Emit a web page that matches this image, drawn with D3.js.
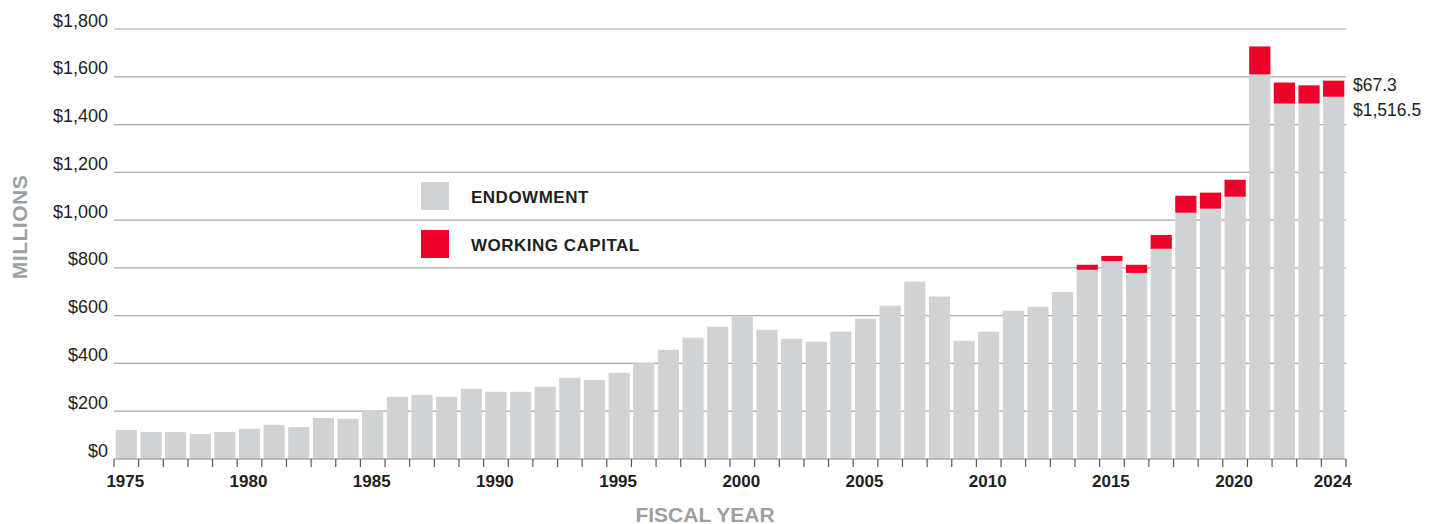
<!DOCTYPE html>
<html>
<head>
<meta charset="utf-8">
<script src="https://cdn.jsdelivr.net/npm/d3@7"></script>
<style>
  body { margin: 0; background: #fff; }
  text { font-family: "Liberation Sans", Arial, sans-serif; }
</style>
</head>
<body>
<div id="chart"></div>
<script>
// fiscal years
var years = d3.range(1975, 2025);

// endowment, $ millions
var endowment = [
  122, 113, 113, 105, 113, 126, 143, 134, 172, 168,
  200, 260, 268, 260, 294, 281, 281, 302, 340, 331,
  361, 401, 457, 508, 554, 601, 541, 503, 491, 533,
  587, 642, 743, 680, 495, 533, 621, 637, 699, 792,
  829, 779, 880, 1031, 1048, 1098, 1610, 1488, 1488, 1516.5
];

// working capital, $ millions
var workingCapital = [
  0, 0, 0, 0, 0, 0, 0, 0, 0, 0,
  0, 0, 0, 0, 0, 0, 0, 0, 0, 0,
  0, 0, 0, 0, 0, 0, 0, 0, 0, 0,
  0, 0, 0, 0, 0, 0, 0, 0, 0, 21,
  21, 34, 58, 71, 67, 71, 117, 88, 76, 67.3
];

var yTicks = d3.range(0, 1801, 200);
var xLabelYears = [1975, 1980, 1985, 1990, 1995, 2000, 2005, 2010, 2015, 2020, 2024];

var W = 1434, H = 524;
var margin = { left: 114, right: 1346, top: 29, bottom: 459 };

var data = years.map(function (y, i) {
  return { year: y, endow: endowment[i], wc: workingCapital[i] };
});

var svg = d3.select("#chart").append("svg")
  .attr("width", W)
  .attr("height", H);

var x = d3.scaleBand()
  .domain(years)
  .range([margin.left, margin.right])
  .paddingInner(0.14)
  .paddingOuter(0.07);

var y = d3.scaleLinear()
  .domain([0, 1800])
  .range([margin.bottom, margin.top]);

// gridlines
svg.append("g")
  .selectAll("line")
  .data(yTicks.filter(function (d) { return d > 0; }))
  .enter().append("line")
  .attr("x1", margin.left)
  .attr("x2", margin.right)
  .attr("y1", function (d) { return y(d); })
  .attr("y2", function (d) { return y(d); })
  .attr("stroke", "#a7a9ac")
  .attr("stroke-width", 1.2);

// y labels
svg.append("g")
  .selectAll("text")
  .data(yTicks)
  .enter().append("text")
  .attr("x", 108)
  .attr("y", function (d) { return y(d) - 2.5; })
  .attr("text-anchor", "end")
  .attr("font-size", "18px")
  .attr("fill", "#231f20")
  .text(function (d) { return "$" + d3.format(",")(d); });

// bars - endowment
svg.append("g")
  .selectAll("rect")
  .data(data)
  .enter().append("rect")
  .attr("x", function (d) { return x(d.year); })
  .attr("y", function (d) { return y(d.endow); })
  .attr("width", x.bandwidth())
  .attr("height", function (d) { return y(0) - y(d.endow); })
  .attr("fill", "#d1d2d4");

// bars - working capital
svg.append("g")
  .selectAll("rect")
  .data(data.filter(function (d) { return d.wc > 0; }))
  .enter().append("rect")
  .attr("x", function (d) { return x(d.year); })
  .attr("y", function (d) { return y(d.endow + d.wc); })
  .attr("width", x.bandwidth())
  .attr("height", function (d) { return y(d.endow) - y(d.endow + d.wc); })
  .attr("fill", "#ed0029");

// x axis line
svg.append("line")
  .attr("x1", margin.left)
  .attr("x2", margin.right)
  .attr("y1", y(0))
  .attr("y2", y(0))
  .attr("stroke", "#a7a9ac")
  .attr("stroke-width", 1.5);

// ticks at band boundaries
var step = x.step();
var bounds = years.map(function (yr) { return x(yr) - step * 0.07; }).concat([margin.right]);
svg.append("g")
  .selectAll("line")
  .data(bounds)
  .enter().append("line")
  .attr("x1", function (d) { return d; })
  .attr("x2", function (d) { return d; })
  .attr("y1", y(0))
  .attr("y2", y(0) + 8)
  .attr("stroke", "#58595b")
  .attr("stroke-width", 1.2);

// x labels
svg.append("g")
  .selectAll("text")
  .data(xLabelYears)
  .enter().append("text")
  .attr("x", function (d) { return x(d) + x.bandwidth() / 2 - 1; })
  .attr("y", 487)
  .attr("text-anchor", "middle")
  .attr("font-size", "17px")
  .attr("font-weight", "bold")
  .attr("fill", "#231f20")
  .text(function (d) { return d; });

// axis titles
svg.append("text")
  .attr("x", 705)
  .attr("y", 522)
  .attr("text-anchor", "middle")
  .attr("font-size", "21px")
  .attr("font-weight", "bold")
  .attr("fill", "#9d9fa2")
  .text("FISCAL YEAR");

svg.append("text")
  .attr("transform", "translate(27,227) rotate(-90)")
  .attr("text-anchor", "middle")
  .attr("font-size", "21px")
  .attr("font-weight", "bold")
  .attr("letter-spacing", "0.5px")
  .attr("fill", "#9d9fa2")
  .text("MILLIONS");

// legend
var legend = [
  { name: "ENDOWMENT", color: "#d1d2d4" },
  { name: "WORKING CAPITAL", color: "#ed0029" }
];
var lg = svg.append("g").selectAll("g")
  .data(legend)
  .enter().append("g")
  .attr("transform", function (d, i) { return "translate(421," + (182 + i * 48) + ")"; });
lg.append("rect")
  .attr("width", 28)
  .attr("height", 28)
  .attr("fill", function (d) { return d.color; });
lg.append("text")
  .attr("x", 50)
  .attr("y", 21)
  .attr("font-size", "17px")
  .attr("font-weight", "bold")
  .attr("letter-spacing", "0.5px")
  .attr("fill", "#231f20")
  .text(function (d) { return d.name; });

// value labels for last year
var last = data[data.length - 1];
svg.append("text")
  .attr("x", 1353)
  .attr("y", 91)
  .attr("font-size", "17.5px")
  .attr("fill", "#231f20")
  .text("$" + d3.format(",.1f")(last.wc));
svg.append("text")
  .attr("x", 1353)
  .attr("y", 116)
  .attr("font-size", "17.5px")
  .attr("fill", "#231f20")
  .text("$" + d3.format(",.1f")(last.endow));
</script>
</body>
</html>
